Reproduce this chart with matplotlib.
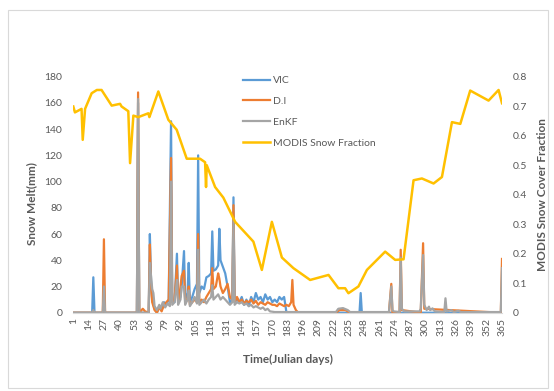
import numpy as np
import matplotlib
matplotlib.use("Agg")
import matplotlib.pyplot as plt
from matplotlib.patches import Rectangle

plt.rcParams['font.family'] = ['Lato', 'DejaVu Sans']

# Snow melt (mm), values at key days
vic_days = [1, 17, 18, 19, 55, 56, 57, 65, 66, 67, 68, 70, 72, 74, 76, 78, 80, 82, 84, 85, 87, 89, 90,
            92, 93, 95, 96, 98, 99, 100, 102, 104, 106, 107, 108, 110, 112, 114, 116, 118, 119, 120,
            122, 124, 125, 126, 128, 130, 132, 134, 136, 137, 138, 140, 142, 144, 146, 148, 150, 152,
            154, 156, 158, 160, 162, 164, 166, 168, 170, 172, 174, 176, 178, 180, 182, 244, 245, 246, 365]
vic_vals = [0, 0, 27, 0, 0, 160, 0, 0, 60, 25, 10, 3, 0, 5, 2, 8, 6, 10, 146, 10, 8, 45, 10,
            12, 20, 47, 10, 15, 38, 8, 12, 18, 22, 120, 15, 20, 18, 27, 28, 30, 62, 32,
            33, 36, 64, 40, 35, 30, 20, 8, 10, 88, 8, 10, 8, 12, 6, 10, 5, 12,
            8, 15, 10, 12, 8, 14, 10, 12, 8, 10, 8, 12, 10, 12, 0, 0, 15, 0, 0]

di_days = [1, 26, 27, 28, 55, 56, 57, 58, 60, 62, 65, 66, 67, 68, 70, 72, 74, 76, 78, 80, 82, 84, 85,
           87, 89, 90, 91, 93, 95, 96, 98, 99, 100, 102, 104, 106, 107, 108, 110, 112, 114, 116, 118,
           119, 120, 122, 124, 125, 126, 128, 130, 132, 134, 136, 137, 138, 140, 142, 144, 146, 148,
           150, 152, 154, 156, 158, 160, 162, 164, 166, 168, 170, 172, 174, 176, 178, 180, 182, 184,
           186, 187, 188, 190, 192, 224, 227, 232, 236, 269, 271, 272, 278, 279, 280, 296, 298, 299,
           364, 365]
di_vals = [0, 0, 56, 0, 0, 168, 2, 1, 3, 1, 0, 52, 20, 8, 2, 0, 4, 1, 6, 8, 10, 118, 8,
           10, 36, 8, 12, 28, 32, 8, 10, 20, 6, 8, 10, 8, 60, 8, 10, 8, 12, 15, 18,
           34, 18, 20, 30, 26, 20, 15, 18, 22, 12, 10, 82, 8, 12, 8, 10, 7, 9,
           8, 10, 7, 9, 6, 8, 7, 6, 8, 7, 6, 6, 5, 7, 6, 5, 6, 5,
           8, 25, 6, 2, 0, 0, 2, 2, 0, 0, 22, 0, 0, 48, 2, 0, 53, 3,
           0, 41]

enkf_days = [1, 17, 18, 19, 26, 27, 28, 55, 56, 57, 65, 66, 68, 69, 70, 72, 74, 75, 77, 79, 81, 83, 84,
             85, 87, 89, 90, 92, 93, 95, 96, 98, 99, 100, 102, 104, 106, 107, 108, 110, 112, 114, 116,
             118, 119, 120, 122, 124, 126, 128, 130, 132, 134, 136, 137, 138, 140, 142, 144, 146, 148,
             150, 152, 154, 156, 158, 160, 162, 164, 166, 168, 172, 224, 226, 230, 234, 236, 269, 271,
             272, 273, 278, 279, 280, 282, 295, 296, 298, 299, 301, 303, 304, 306, 308, 316, 317, 318,
             322, 324, 328, 330, 364, 365]
enkf_vals = [0, 0, 2, 0, 0, 20, 0, 0, 163, 0, 0, 38, 18, 15, 5, 2, 6, 3, 8, 4, 7, 5, 100,
             6, 8, 25, 6, 10, 20, 20, 6, 10, 17, 5, 8, 12, 7, 48, 6, 8, 10, 7, 10,
             12, 21, 10, 12, 14, 10, 12, 10, 8, 6, 8, 72, 6, 8, 7, 8, 6, 7,
             5, 6, 4, 5, 4, 3, 4, 2, 3, 1, 0.5, 0.5, 3, 3.5, 2, 0.5, 0.5, 20,
             2, 1, 0.5, 42, 3, 1, 1, 3, 44, 6, 2, 4.6, 2, 3.3, 1, 0.5, 11, 1,
             2, 0.5, 1.5, 0.5, 0.5, 34]

# MODIS snow cover fraction
modis_days = [1, 2.4, 8, 9, 11, 16.6, 21, 25, 33.6, 40.7, 42, 47.7, 49.2, 52, 56.2, 64.7, 65.6, 73.2,
              81.7, 88.8, 97.3, 108.6, 112.9, 113.7, 114.3, 121.4, 128.4, 138.4, 153.9, 161.1, 169.6,
              178.1, 187.9, 202.1, 217.7, 226.1, 231.8, 234.6, 243.1, 250.3, 265.8, 274.3, 281.4,
              289.9, 297, 306.9, 314, 322.5, 329.6, 338, 353.6, 362.1, 365]
modis_vals = [0.699, 0.679, 0.691, 0.586, 0.691, 0.744, 0.755, 0.755, 0.702, 0.708, 0.699, 0.683,
              0.507, 0.668, 0.663, 0.676, 0.663, 0.750, 0.654, 0.62, 0.522, 0.522, 0.51, 0.426, 0.5,
              0.426, 0.39, 0.308, 0.241, 0.145, 0.308, 0.187, 0.151, 0.111, 0.128, 0.083, 0.083,
              0.066, 0.089, 0.145, 0.207, 0.179, 0.181, 0.449, 0.455, 0.438, 0.46, 0.646, 0.64,
              0.753, 0.719, 0.755, 0.71]

xticks = list(range(1, 366, 13))
txt = '#595959'

W, H = 554, 391
fig = plt.figure(figsize=(W / 100, H / 100), dpi=100)
fig.patches.append(Rectangle((8 / W, 1 - 388 / H), 540 / W, 378 / H, transform=fig.transFigure,
                             fill=False, edgecolor='#D9D9D9', linewidth=0.8))

ax = fig.add_axes([73.3 / W, 1 - 312.7 / H, (502 - 73.3) / W, (312.7 - 76.7) / H])
l1, = ax.plot(vic_days, vic_vals, color='#5B9BD5', lw=1.6, label='VIC')
l2, = ax.plot(di_days, di_vals, color='#ED7D31', lw=1.6, label='D.I')
l3, = ax.plot(enkf_days, enkf_vals, color='#A5A5A5', lw=1.6, label='EnKF')
ax.set_xlim(1, 365)
ax.set_ylim(0, 180)
ax.set_yticks(range(0, 181, 20))
ax.set_xticks(xticks)
ax.set_xticklabels([str(t) for t in xticks], rotation=90)
for s in ['top', 'right', 'left']:
    ax.spines[s].set_visible(False)
ax.spines['bottom'].set_color('#D9D9D9')
ax.tick_params(axis='both', length=0, colors=txt, labelsize=7.5)
ax.tick_params(axis='y', pad=8)
ax.tick_params(axis='x', pad=4)
ax.set_xlabel('Time(Julian days)', color=txt, fontsize=8.5, fontweight='bold', labelpad=13)

ax2 = ax.twinx()
l4, = ax2.plot(modis_days, modis_vals, color='#FFC000', lw=1.8, label='MODIS Snow Fraction')
ax2.set_ylim(0, 0.8)
ax2.set_yticks(np.arange(0, 0.81, 0.1))
ax2.set_yticklabels(['0'] + ['%.1f' % v for v in np.arange(0.1, 0.81, 0.1)])
for s in ['top', 'right', 'left', 'bottom']:
    ax2.spines[s].set_visible(False)
ax2.tick_params(axis='y', length=0, colors=txt, labelsize=7.5, pad=8)

fig.text(32 / W, 1 - 204 / H, 'Snow Melt(mm)', rotation=90, ha='center', va='center',
         color=txt, fontsize=8.5, fontweight='bold')
fig.text(543 / W, 1 - 195 / H, 'MODIS Snow Cover Fraction', rotation=90, ha='center', va='center',
         color=txt, fontsize=8.5, fontweight='bold')

leg = ax2.legend(handles=[l1, l2, l3, l4], loc='upper left', bbox_to_anchor=(243 / W, 1 - 76 / H),
                 bbox_transform=fig.transFigure, frameon=False, fontsize=7.5, labelcolor=txt,
                 handlelength=2.6, handletextpad=0.3, labelspacing=1.1, borderpad=0, borderaxespad=0)

fig.savefig('out.png', dpi=100)
